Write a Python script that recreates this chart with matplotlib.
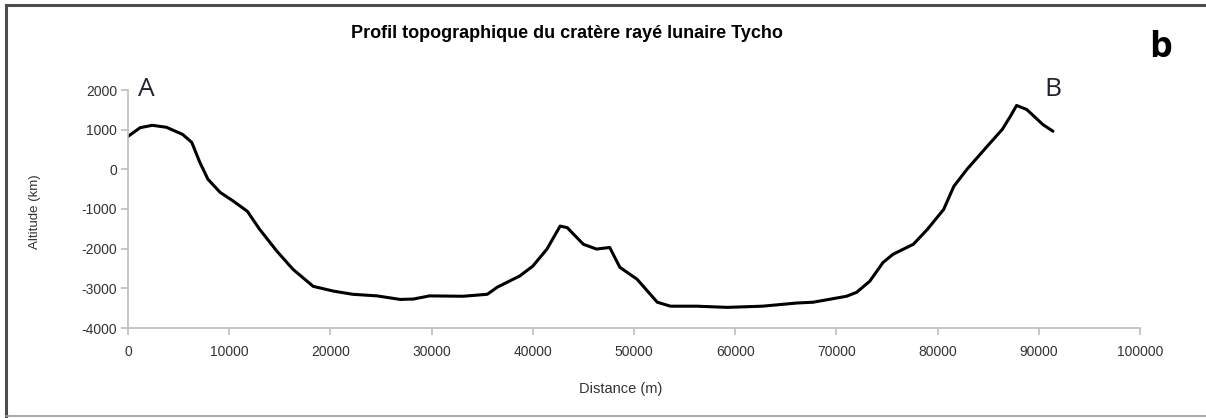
import matplotlib
matplotlib.use("Agg")
import matplotlib.pyplot as plt
from matplotlib.lines import Line2D

plt.rcParams["axes.unicode_minus"] = False

# profile A -> B across Tycho crater
distance_m = [0, 1200, 2400, 3800, 5400, 6300, 7100, 7900, 9100, 10400, 11800,
              13000, 14700, 16300, 18300, 20300, 22200, 24600, 26900, 28200,
              29800, 33100, 35500, 36500, 38700, 40000, 41400, 42700, 43400,
              45000, 46300, 47600, 48600, 50300, 52300, 53600, 56200, 59200,
              62700, 66100, 67700, 71000, 72000, 73300, 74600, 75600, 77600,
              79000, 80600, 81600, 82900, 84900, 86400, 87200, 87800, 88800,
              90400, 91400]
altitude = [830, 1050, 1110, 1060, 880, 680, 175, -250, -580, -800, -1060,
            -1510, -2060, -2520, -2950, -3070, -3150, -3190, -3280, -3270,
            -3190, -3200, -3150, -2970, -2690, -2440, -2010, -1430, -1470,
            -1890, -2010, -1970, -2470, -2770, -3350, -3450, -3450, -3480,
            -3450, -3370, -3350, -3200, -3100, -2820, -2350, -2140, -1890,
            -1510, -1010, -430, 0, 580, 1010, 1340, 1610, 1510,
            1130, 960]

W, H = 1206, 418
fig = plt.figure(figsize=(W / 100, H / 100), dpi=100)
ax = fig.add_axes([128 / W, 1 - 328 / H, 1012 / W, 238 / H])

ax.plot(distance_m, altitude, color="black", lw=2.2, solid_capstyle="round",
        solid_joinstyle="round")

ax.set_xlim(0, 100000)
ax.set_ylim(-4000, 2000)
ax.set_xticks(range(0, 100001, 10000))
ax.set_yticks(range(-4000, 2001, 1000))

grey = "#bdbdbd"
for side in ["top", "right"]:
    ax.spines[side].set_visible(False)
for side in ["left", "bottom"]:
    ax.spines[side].set_color(grey)
    ax.spines[side].set_linewidth(1.2)
ax.tick_params(colors=grey, labelcolor="#333333", labelsize=10, length=5,
               width=1.2, direction="out")
ax.tick_params(axis="x", pad=7)
ax.tick_params(axis="y", pad=3)
for lbl in ax.get_xticklabels() + ax.get_yticklabels():
    lbl.set_family("Liberation Sans")

ax.set_xlabel("Distance (m)", fontsize=10.5, color="#333333",
              family="Liberation Sans")
ax.xaxis.set_label_coords(0.487, -0.225)
ax.set_ylabel("Altitude (km)", fontsize=9.5, color="#333333",
              family="Liberation Sans")
ax.yaxis.set_label_coords(-0.086, 0.49)

fig.text(567 / W, 1 - 33 / H, "Profil topographique du cratère rayé lunaire Tycho",
         ha="center", va="center", fontsize=13, fontweight="bold",
         family="Liberation Sans")

ax.text(1800, 1700, "A", fontsize=19, color="#222233", ha="center",
        va="bottom", family="Open Sans")
ax.text(91400, 1700, "B", fontsize=19, color="#222233", ha="center",
        va="bottom", family="Open Sans")
fig.text(1161 / W, 1 - 48 / H, "b", fontsize=26, fontweight="bold",
         ha="center", va="center", family="Open Sans")

# frame: dark top/left edges, light bottom edge
fig.add_artist(Line2D([6 / W, 1], [1 - 5 / H, 1 - 5 / H], color="#4d4d4d",
                      lw=2.2, transform=fig.transFigure))
fig.add_artist(Line2D([6 / W, 6 / W], [1 - 5 / H, 1 / H], color="#4d4d4d",
                      lw=2.2, transform=fig.transFigure))
fig.add_artist(Line2D([6 / W, 1], [2 / H, 2 / H], color="#9a9a9a",
                      lw=1.2, transform=fig.transFigure))

fig.savefig("out.png", dpi=100)
